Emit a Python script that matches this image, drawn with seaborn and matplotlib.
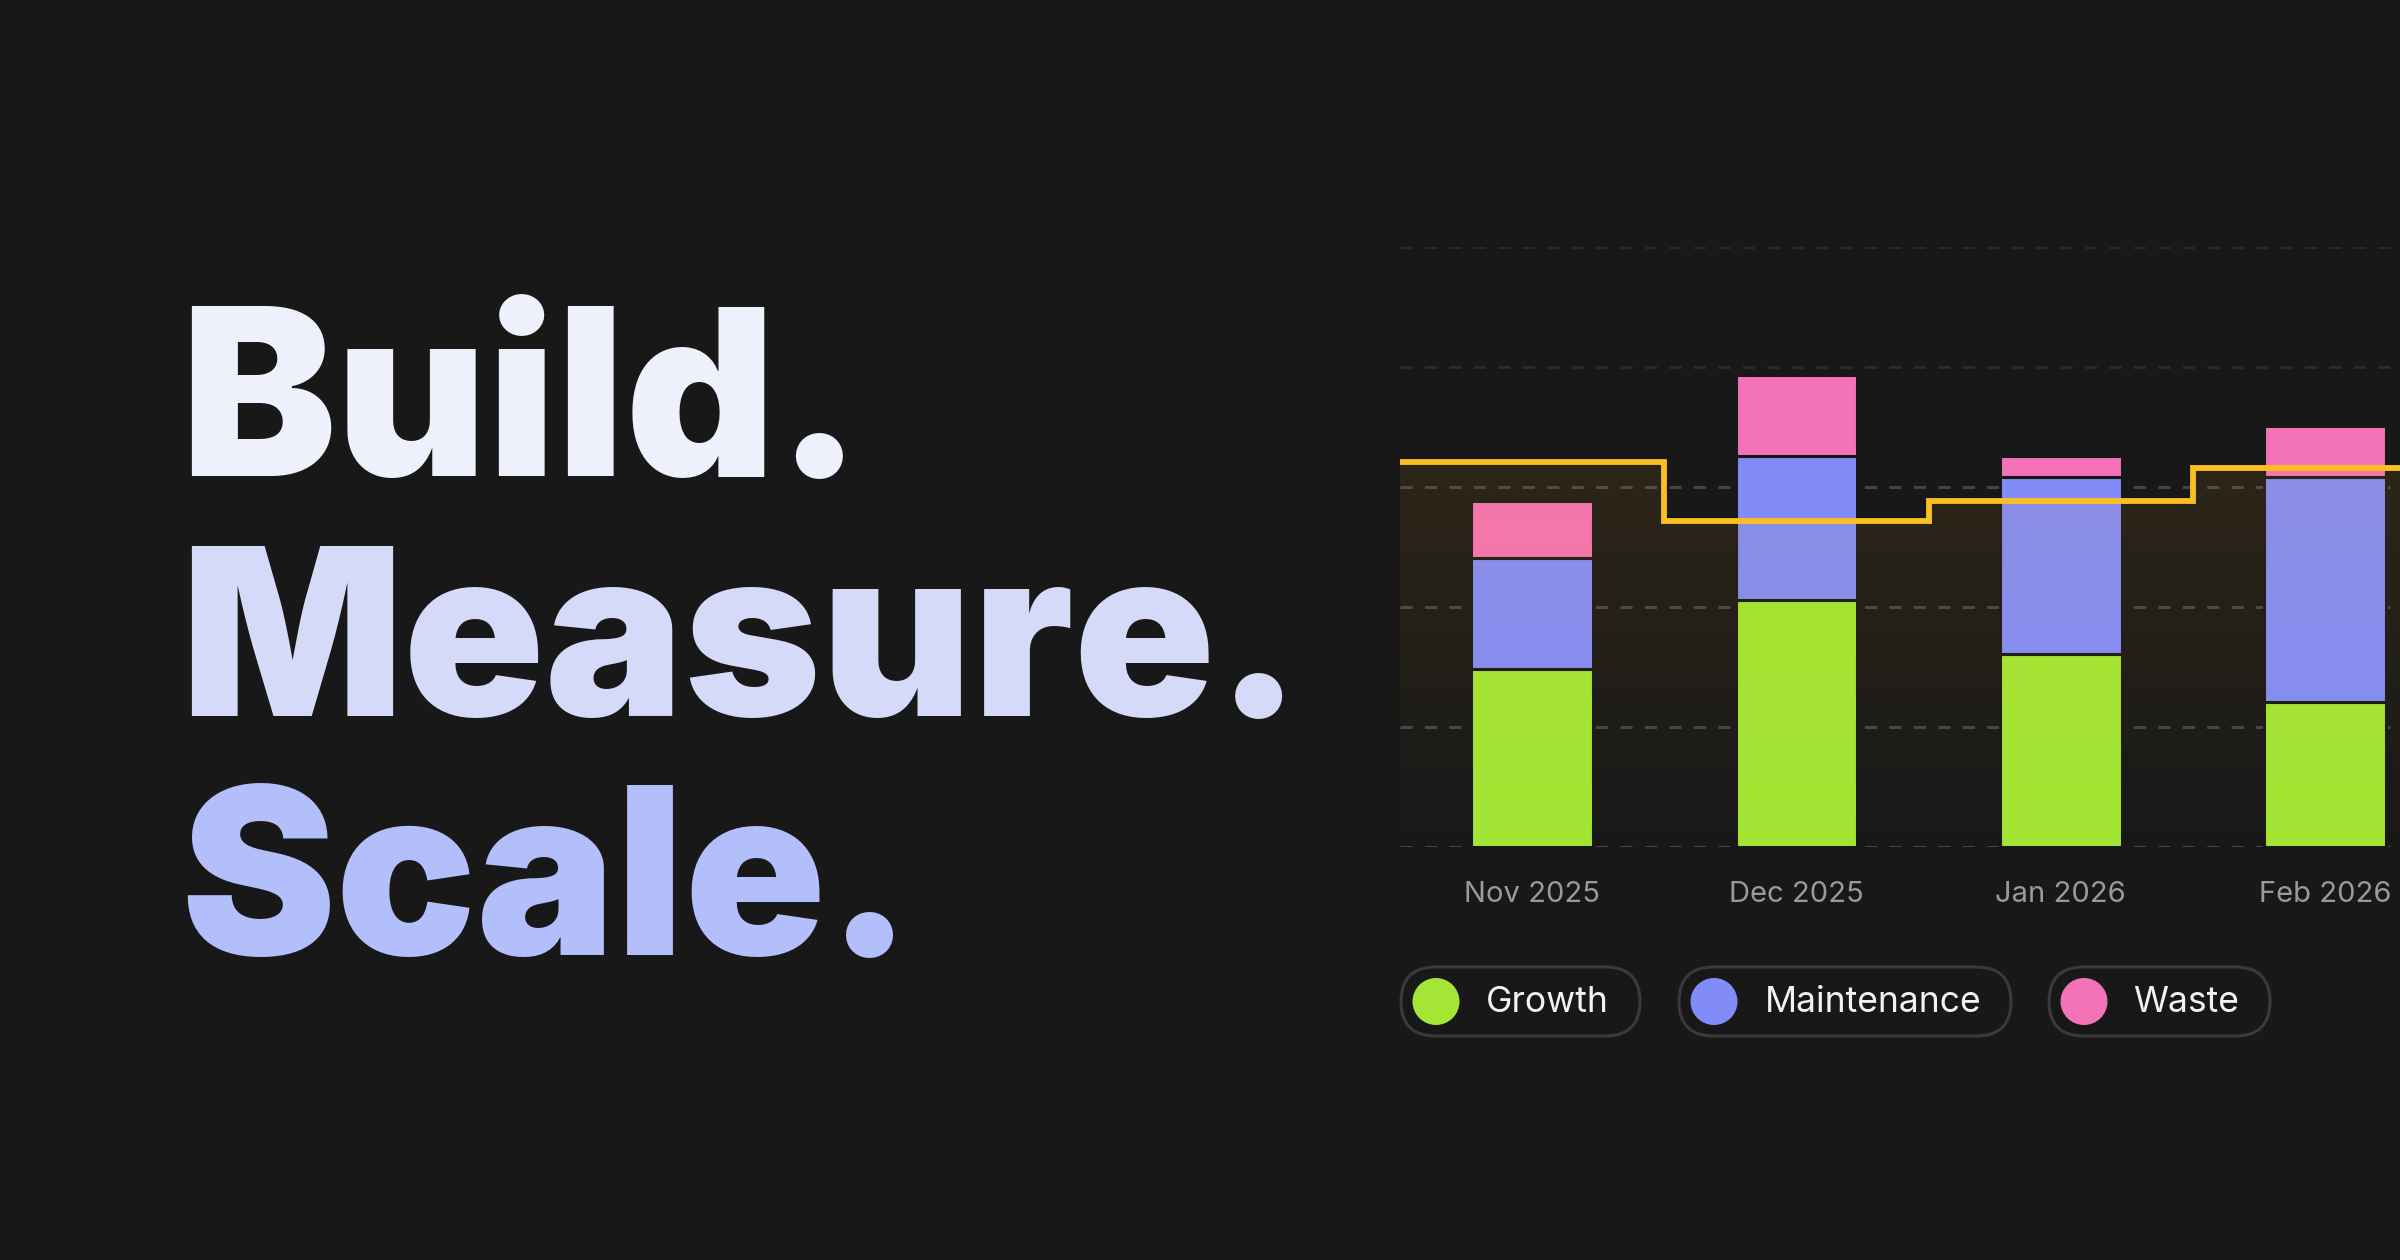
import numpy as np
import pandas as pd
import matplotlib.pyplot as plt
import seaborn as sns
from matplotlib.patches import FancyBboxPatch, Circle

# Data (one gridline = 25 units)
months = ['Nov 2025', 'Dec 2025', 'Jan 2026', 'Feb 2026']
growth = [37.2, 51.5, 40.3, 30.2]
maintenance = [23.0, 30.0, 36.8, 46.9]
waste = [11.9, 16.8, 4.4, 10.6]
target = [80.3, 67.9, 72.2, 79.0]

series_names = ['Growth', 'Maintenance', 'Waste']
series_colors = ['#a3e635', '#818cf8', '#f472b6']

headline = ['Build.', 'Measure.', 'Scale.']
headline_colors = ['#eef0fb', '#d5daf9', '#b3bffb']

BG = '#181818'

df = pd.DataFrame({'month': months, 'Growth': growth,
                   'Maintenance': maintenance, 'Waste': waste})

plt.rcParams['font.family'] = ['Inter', 'DejaVu Sans']

fig = plt.figure(figsize=(12, 6.3), dpi=200, facecolor=BG)

# background axes in pixel coordinates for headline and legend pills
bg = fig.add_axes([0, 0, 1, 1], zorder=0)
bg.set_xlim(0, 2400)
bg.set_ylim(1260, 0)
bg.axis('off')

for line, col, base in zip(headline, headline_colors, [476, 716, 955]):
    bg.text(180, base, line, color=col, fontsize=84, fontweight='black',
            family='Inter', va='baseline', ha='left')

# chart axes, running off the right edge
ax = fig.add_axes([1400 / 2400, 0.3274, 1 - 1400 / 2400, 0.4767], zorder=1)
ax.set_facecolor('none')

bottom = np.zeros(len(months))
for name, col in zip(series_names, series_colors):
    sns.barplot(data=df, x='month', y=name, order=months, color=col,
                bottom=bottom, width=0.46, saturation=1, errorbar=None,
                edgecolor=BG, linewidth=1.1, zorder=2, ax=ax)
    bottom = bottom + df[name].to_numpy()

edges = np.arange(len(months) + 1) - 0.5
fill_patch = ax.stairs(target, edges, baseline=0, fill=True,
                       facecolor='none', edgecolor='none')
grad = np.zeros((256, 1, 4))
grad[..., 0] = 245 / 255
grad[..., 1] = 170 / 255
grad[..., 2] = 30 / 255
grad[:, 0, 3] = np.linspace(0.095, 0.005, 256)
im = ax.imshow(grad, extent=[edges[0], edges[-1], 0, max(target)],
               aspect='auto', origin='upper', zorder=3)
im.set_clip_path(fill_patch)

ax.stairs(target, edges, baseline=None, color='#fbbf24', linewidth=2.1, zorder=4)

ax.set_xlim(-0.5, 3.283)
ax.set_ylim(0, 125)
ax.set_yticks([0, 25, 50, 75, 100, 125])
ax.set_axisbelow(True)
ax.grid(axis='y', linestyle=(0, (4, 4)), linewidth=1.1)
ax.grid(axis='x', visible=False)
for val, gl in zip(ax.get_yticks(), ax.get_ygridlines()):
    gl.set_color('#2a2a2a' if val >= 100 else '#444444')
for s in ax.spines.values():
    s.set_visible(False)
ax.set_xlabel('')
ax.set_ylabel('')
ax.tick_params(axis='y', left=False, labelleft=False)
ax.tick_params(axis='x', length=0, pad=12, labelsize=10.5, labelcolor='#9a9a9a')

# legend pills
pills = [(1401, 1640, 1436, 1486), (1679, 2011, 1714, 1765), (2049, 2270, 2084, 2133)]
for (x0, x1, cx, tx), name, col in zip(pills, series_names, series_colors):
    bg.add_patch(FancyBboxPatch((x0, 967), x1 - x0, 69,
                                boxstyle='round,pad=0,rounding_size=34.5',
                                facecolor=BG, edgecolor='#3a3a3a', linewidth=1.1))
    bg.add_patch(Circle((cx, 1001.5), 23.5, facecolor=col, edgecolor='none'))
    bg.text(tx, 1002, name, color='#f2f2f2', fontsize=12.8, va='center', ha='left')

fig.savefig('out.png', dpi=200, facecolor=BG)
